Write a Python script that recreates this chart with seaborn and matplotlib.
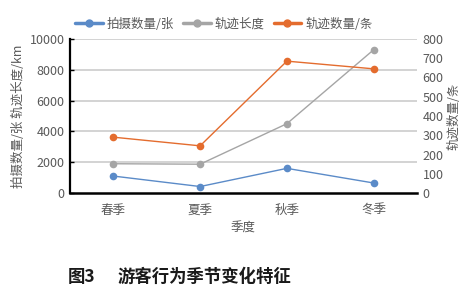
import matplotlib
matplotlib.use("Agg")
import matplotlib.pyplot as plt
import seaborn as sns
import pandas as pd
from matplotlib.lines import Line2D

sns.set_style("white")
plt.rcParams['font.family'] = ['Noto Sans CJK SC', 'DejaVu Sans']

seasons = ["春季", "夏季", "秋季", "冬季"]
photo_count = [1100, 420, 1600, 650]        # 拍摄数量/张 (left axis)
track_length = [1900, 1870, 4500, 9300]     # 轨迹长度 km (left axis)
track_count = [290, 245, 685, 645]          # 轨迹数量/条 (right axis)
left_ticks = [0, 2000, 4000, 6000, 8000, 10000]
right_ticks = [0, 100, 200, 300, 400, 500, 600, 700, 800]

c_blue = "#5B8BC8"
c_gray = "#A5A5A5"
c_orange = "#E46C2E"
txt = "#595959"

df = pd.DataFrame({"x": range(len(seasons)), "photo": photo_count,
                   "length": track_length, "count": track_count})

fig = plt.figure(figsize=(4.7, 2.96), dpi=100)
ax = fig.add_axes([70/470, 1-193/296, (417-70)/470, (193-39)/296])
ax2 = ax.twinx()

for v in left_ticks[1:]:
    ax.axhline(v, color="#D0D0D0", lw=1.3, zorder=0)

sns.lineplot(data=df, x="x", y="length", ax=ax, color=c_gray, marker="o",
             markersize=5.5, markeredgewidth=0, lw=1, zorder=3)
sns.lineplot(data=df, x="x", y="photo", ax=ax, color=c_blue, marker="o",
             markersize=5.5, markeredgewidth=0, lw=1, zorder=3)
sns.lineplot(data=df, x="x", y="count", ax=ax2, color=c_orange, marker="o",
             markersize=5.5, markeredgewidth=0, lw=1, zorder=3)

ax.set_xlim(-0.5, 3.5)
ax.set_ylim(0, 10000)
ax2.set_ylim(0, 800)
ax.set_yticks(left_ticks)
ax2.set_yticks(right_ticks)
ax.set_xticks(range(len(seasons)))
ax.set_xticklabels(seasons)
ax.set_xticks([0.5, 1.5, 2.5, 3.5], minor=True)

for s in ["top", "right"]:
    ax.spines[s].set_visible(False)
for s in ["top", "right", "left", "bottom"]:
    ax2.spines[s].set_visible(False)
ax.spines["left"].set_color("black")
ax.spines["left"].set_linewidth(1.6)
ax.spines["bottom"].set_color("black")
ax.spines["bottom"].set_linewidth(1.8)

ax.tick_params(axis="x", which="major", length=0, pad=8, labelsize=9, labelcolor=txt)
ax.tick_params(axis="x", which="minor", length=4, width=1, direction="in", color="black")
ax.tick_params(axis="y", length=3, width=1, direction="in", color="black", labelsize=9, labelcolor=txt, pad=4)
ax2.tick_params(axis="y", length=0, labelsize=9, labelcolor=txt, pad=4)

ax.set_xlabel("季度", fontsize=9, color=txt, labelpad=3)
ax.set_ylabel("拍摄数量/张 轨迹长度/km", fontsize=9, color=txt, labelpad=3)
ax2.set_ylabel("轨迹数量/条", fontsize=9, color=txt, labelpad=3)

handles = [Line2D([], [], color=c_blue, marker="o", lw=2.5, markersize=5),
           Line2D([], [], color=c_gray, marker="o", lw=2.5, markersize=5),
           Line2D([], [], color=c_orange, marker="o", lw=2.5, markersize=5)]
labels = ["拍摄数量/张", "轨迹长度", "轨迹数量/条"]
fig.legend(handles, labels, loc="center", bbox_to_anchor=(224/470, 1-24/296),
           ncol=3, frameon=False, fontsize=9, labelcolor=txt, handlelength=2.2,
           columnspacing=0.7, handletextpad=0.35)

fig.text(68/470, 1-277/296, "图3", fontsize=12.5,
         fontweight="bold", color="#1a1a1a", va="center", ha="left")
fig.text(118/470, 1-277/296, "游客行为季节变化特征", fontsize=12.5,
         fontweight="bold", color="#1a1a1a", va="center", ha="left")

fig.savefig("out.png", dpi=100)
